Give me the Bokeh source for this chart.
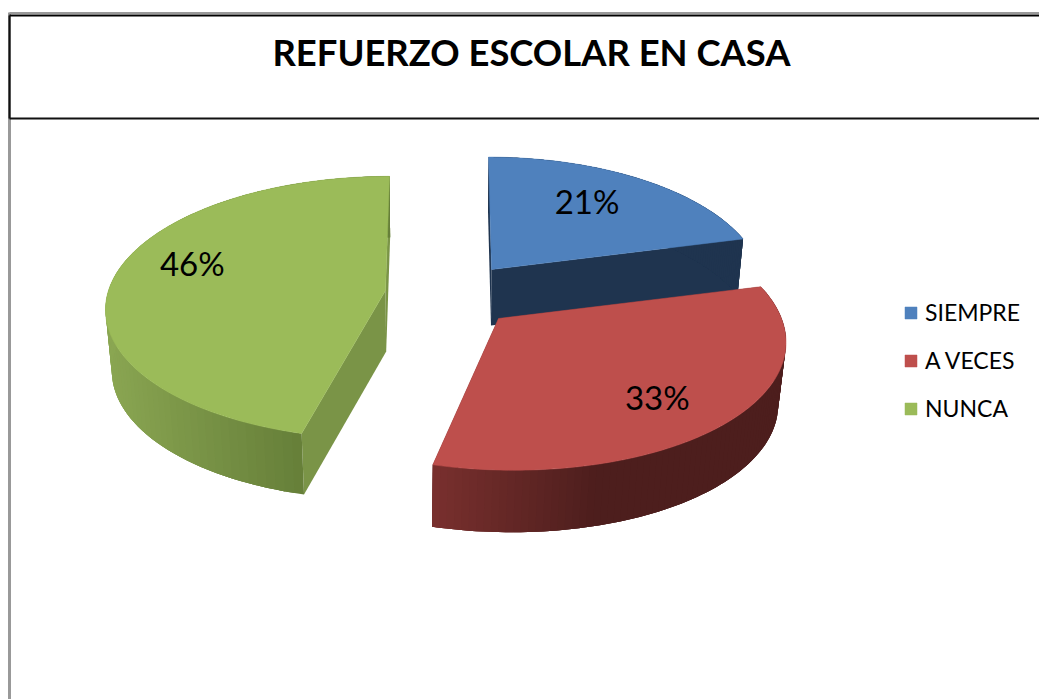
import numpy as np
from bokeh.plotting import figure
from bokeh.embed import file_html
from bokeh.resources import INLINE
from bokeh.core.properties import value
from bokeh.models import Range1d, Legend, LegendItem

TITLE = "REFUERZO ESCOLAR EN CASA"
categories = ["SIEMPRE", "A VECES", "NUNCA"]
percent = [21, 33, 46]
labels = ["21%", "33%", "46%"]

top_colors = ["#4F81BD", "#BE4F4C", "#9BBB59"]
inner_colors = ["#1F344F", "#4D1E1D", "#7A9447"]
ramp_left = ["#1F344F", "#7A302E", "#8AA652"]
ramp_right = ["#1F344F", "#4D1E1D", "#667F39"]
ramp_x = [(490, 740), (433, 600), (105, 305)]

# projection layout of the exploded 3-D pie (page pixels)
centres = [(491, 269), (498, 318), (385, 290)]
rx = [269, 283, 277]
ry = [127, 132, 129]
depth = [56, 62, 61]
vanish = [465.0, 395.0, 420.0]
label_frac = [0.70, 0.74, 0.755]
label_shift_deg = [-4, 3, 10]
K = 0.13
BOTTOM = 0.98


def hex2rgb(h):
    return np.array([int(h[i:i + 2], 16) for i in (1, 3, 5)], dtype=float)


def mix(a, b, t):
    t = min(1.0, max(0.0, t))
    c = hex2rgb(a) * (1 - t) + hex2rgb(b) * t
    return "#%02x%02x%02x" % tuple(int(round(v)) for v in c)


def proj(i, ang, frac=1.0):
    u, v = np.sin(ang) * frac, np.cos(ang) * frac
    s = 1.0 / (1.0 + K * v)
    cx, cy = centres[i]
    return vanish[i] + (cx - vanish[i] + rx[i] * u) * s, cy - ry[i] * v * s


def down(i, x, y):
    return vanish[i] + (x - vanish[i]) * BOTTOM, y + depth[i]


p = figure(width=1039, height=699, x_range=Range1d(0, 1039), y_range=Range1d(699, 0),
           output_backend="svg", toolbar_location=None, min_border=0)
p.axis.visible = False
p.grid.visible = False
p.outline_line_color = None
p.background_fill_color = "white"

# frame
p.line([9, 9], [12, 699], line_color="#999999", line_width=3)
p.line([9, 1039], [12.5, 12.5], line_color="#999999", line_width=2)
p.line([9, 1039], [15, 15], line_color="#000000", line_width=2)
p.line([9, 1039], [118, 118], line_color="#111111", line_width=2)
p.line([9, 9], [15, 118], line_color="#111111", line_width=2)
p.text([531], [51], text=[TITLE], text_font=value("Lato"), text_font_style="bold",
       text_font_size="36.4px", text_align="center", text_baseline="middle", text_color="#000000")

edges = np.cumsum([0] + percent) / sum(percent) * 2 * np.pi
tops = []
for i in range(3):
    a0, a1 = edges[i], edges[i + 1]
    cx, cy = centres[i]
    # flat cut walls
    for a in (a0, a1):
        ex, ey = proj(i, a)
        pts = [(cx, cy), (ex, ey), down(i, ex, ey), down(i, cx, cy)]
        p.patch([q[0] for q in pts], [q[1] for q in pts], fill_color=inner_colors[i],
                line_color=None)
    # curved outer wall, shaded in overlapping strips so no seams show
    angs = np.linspace(a0, a1, 90)
    for j in range(len(angs) - 1):
        sub = np.linspace(angs[j], angs[min(j + 3, len(angs) - 1)], 4)
        x, y = proj(i, sub)
        xb, yb = down(i, x, y)
        t = (x[0] - ramp_x[i][0]) / (ramp_x[i][1] - ramp_x[i][0])
        p.patch(np.r_[x, xb[::-1]], np.r_[y, yb[::-1]], fill_color=mix(ramp_left[i], ramp_right[i], t),
                line_color=None)
    # top face
    angs = np.linspace(a0, a1, 160)
    xs, ys = proj(i, angs)
    r = p.patch(np.r_[cx, xs], np.r_[cy, ys], fill_color=top_colors[i], line_color=top_colors[i],
                line_width=0.5)
    tops.append(r)

for i in range(3):
    mid = (edges[i] + edges[i + 1]) / 2 + np.radians(label_shift_deg[i])
    lx, ly = proj(i, mid, label_frac[i])
    p.text([lx], [ly], text=[labels[i]], text_font=value("Lato"), text_font_size="33px",
           text_align="center", text_baseline="middle", text_color="#000000")

legend = Legend(items=[LegendItem(label=c, renderers=[r]) for c, r in zip(categories, tops)],
                location=(903, 277), orientation="vertical", border_line_color=None,
                background_fill_alpha=0, glyph_width=15, glyph_height=15, spacing=20,
                label_standoff=7, label_text_font="Lato", label_text_font_size="23px",
                label_height=23, padding=0, margin=0, label_text_color="#000000")
p.add_layout(legend, "center")

open("out.html", "w").write(file_html(p, INLINE))
